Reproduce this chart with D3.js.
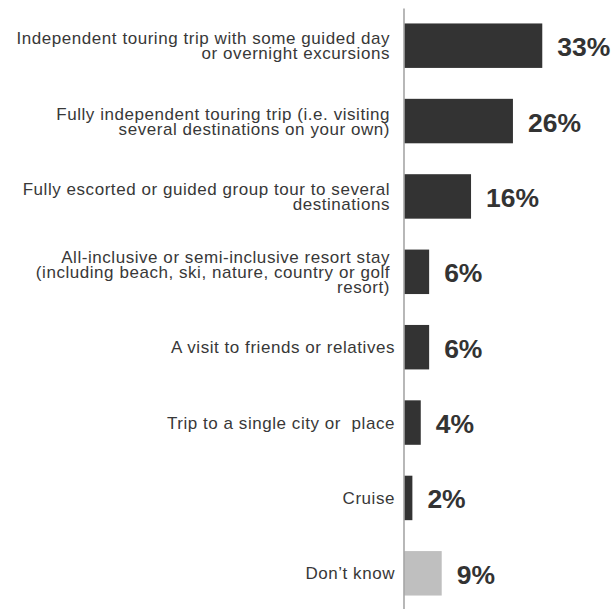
<!DOCTYPE html>
<html>
<head>
<meta charset="utf-8">
<script src="https://cdn.jsdelivr.net/npm/d3@7"></script>
<style>
  html, body { margin: 0; padding: 0; background: #ffffff; }
  svg { display: block; }
</style>
</head>
<body>
<svg id="chart" width="615" height="609"></svg>
<script>
// Preferred type of trip, share of respondents
const categories = [
  "Independent touring trip with some guided day\nor overnight excursions",
  "Fully independent touring trip (i.e. visiting\nseveral destinations on your own)",
  "Fully escorted or guided group tour to several\ndestinations",
  "All-inclusive or semi-inclusive resort stay\n(including beach, ski, nature, country or golf\nresort)",
  "A visit to friends or relatives",
  "Trip to a single city or  place",
  "Cruise",
  "Don\u2019t know"
];
const values = [33, 26, 16, 6, 6, 4, 2, 9];
const valueLabels = ["33%", "26%", "16%", "6%", "6%", "4%", "2%", "9%"];
const isUndecided = [false, false, false, false, false, false, false, true];

const svg = d3.select("#chart");
const axisX = 403.5;

const y = d3.scaleBand()
  .domain(categories)
  .range([8, 611])
  .paddingInner(0.41)
  .paddingOuter(0.205);

const x = d3.scaleLinear()
  .domain([0, 35])
  .range([404, 404 + 35 * 4.19]);

const rows = categories.map((c, i) => ({
  cat: c, value: values[i], label: valueLabels[i], grey: isUndecided[i]
}));

// bars
svg.append("g")
  .selectAll("rect")
  .data(rows)
  .join("rect")
  .attr("x", x(0))
  .attr("y", d => y(d.cat))
  .attr("width", d => x(d.value) - x(0))
  .attr("height", y.bandwidth())
  .attr("fill", d => d.grey ? "#bfbfbf" : "#333333");

// vertical category axis (line only)
const axis = svg.append("g")
  .attr("transform", `translate(${axisX},0)`)
  .call(d3.axisLeft(y).tickSize(0).tickSizeOuter(0).tickFormat(""));
axis.select(".domain").attr("stroke", "#a6a6a6").attr("stroke-width", 1.6);

// wrapped category labels, right-aligned next to the axis
const lineH = 15;
const catLabels = svg.append("g")
  .attr("font-family", "'Liberation Sans', Arial, sans-serif")
  .attr("font-size", 17)
  .attr("letter-spacing", 0.55)
  .attr("fill", "#383838")
  .attr("text-anchor", "end");

rows.forEach(d => {
  const lines = d.cat.split("\n");
  const cy = y(d.cat) + y.bandwidth() / 2;
  const right = lines.length > 1 ? 390 : 395;
  const t = catLabels.append("text")
    .attr("x", right)
    .attr("y", cy - (lines.length - 1) * lineH / 2)
    .style("white-space", "pre");
  lines.forEach((ln, k) => {
    t.append("tspan")
      .attr("x", right)
      .attr("dy", k === 0 ? "0.35em" : lineH)
      .text(ln);
  });
});

// value labels
svg.append("g")
  .attr("font-family", "'Liberation Sans', Arial, sans-serif")
  .attr("font-size", 26.5)
  .attr("font-weight", "bold")
  .attr("fill", "#333333")
  .selectAll("text")
  .data(rows)
  .join("text")
  .attr("x", d => x(d.value) + 15)
  .attr("y", d => y(d.cat) + y.bandwidth() / 2 + 1)
  .attr("dy", "0.36em")
  .text(d => d.label);
</script>
</body>
</html>
